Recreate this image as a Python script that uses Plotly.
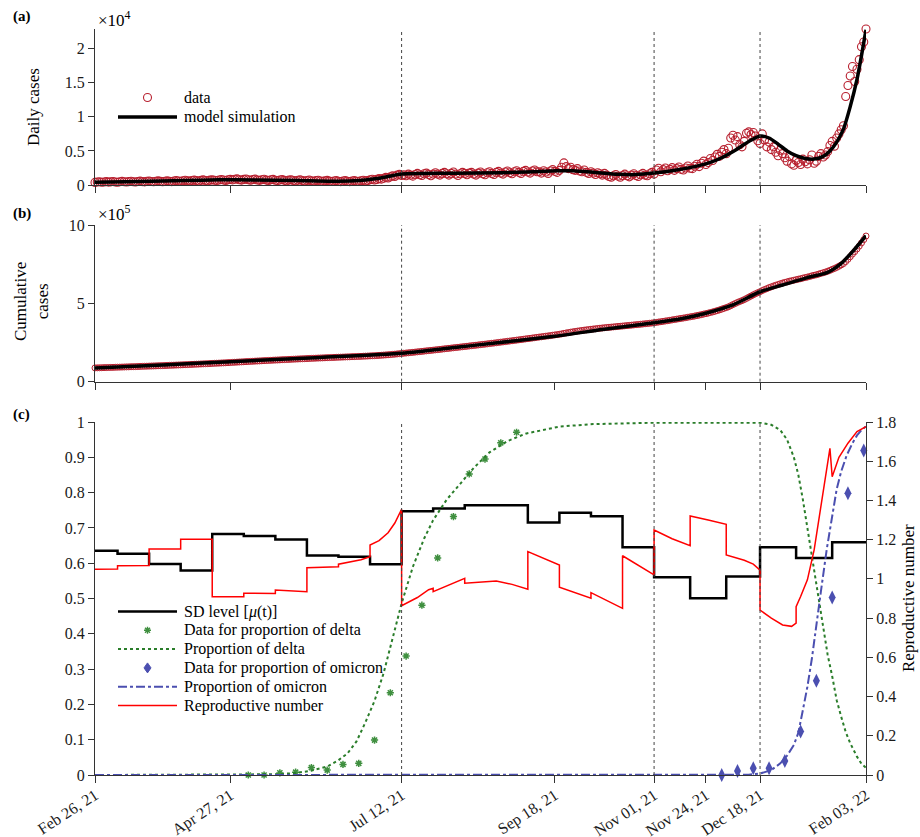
import numpy as np
import pandas as pd
import plotly.graph_objects as go

START = "2021-02-26"
END = "2022-02-03"

tick_dates = ["2021-02-26", "2021-04-27", "2021-07-12", "2021-09-18",
              "2021-11-01", "2021-11-24", "2021-12-18", "2022-02-03"]
tick_labels = ["Feb 26, 21", "Apr 27, 21", "Jul 12, 21", "Sep 18, 21",
               "Nov 01, 21", "Nov 24, 21", "Dec 18, 21", "Feb 03, 22"]
stage_dates = ["2021-07-12", "2021-11-01", "2021-12-18"]

# ---- (a) daily reported cases, one value per day from Feb 26, 2021 ----
daily_cases = (
    [380, 430, 470, 410, 450, 500, 420, 460, 520, 450, 400, 480, 530, 470, 430, 500,
     550, 480, 440, 520, 570, 500, 460, 540, 590, 510, 470, 550, 600, 530, 490]
    + [560, 620, 540, 500, 590, 650, 580, 540, 630, 690, 610, 570, 660, 720, 640, 590,
       680, 750, 670, 620, 710, 780, 700, 650, 740, 810, 730, 670, 760, 830]
    + [750, 840, 900, 780, 720, 820, 880, 760, 700, 800, 860, 740, 680, 780, 840, 720,
       660, 760, 820, 700, 640, 740, 800, 680, 620, 720, 780, 660, 600, 700]
    + [760, 640, 580, 670, 730, 610, 560, 640, 700, 590, 530, 610, 680, 570, 510, 590,
       660, 560, 500, 580, 650, 550, 500, 590, 660, 560, 540, 620, 700, 600]
    + [660, 760, 840, 730, 820, 940, 860, 990, 1120, 1040, 1190, 1340, 1260, 1450, 1560, 1400]
    + [1500, 1350, 1600, 1450, 1300, 1550, 1700, 1500, 1400, 1650, 1750, 1550, 1350, 1600,
       1800, 1600, 1450, 1700, 1850, 1650, 1450, 1700, 1900, 1600, 1400, 1650, 1850, 1700,
       1500, 1750]
    + [1850, 1600, 1450, 1750, 1900, 1650, 1500, 1800, 1950, 1700, 1550, 1850, 2000, 1750,
       1600, 1900, 2050, 1800, 1650, 1950, 2100, 1850, 1700, 2000, 2150, 1900, 1750, 2050,
       2200, 1950]
    + [1950, 1750, 2100, 1900, 1700, 2050, 2250, 2000, 1850, 2150, 2600, 3250, 2700, 2400,
       2600, 2250, 2150, 2400, 2050, 1950, 2200, 1850, 1700, 1950, 1750, 1550, 1800, 1650,
       1450, 1700]
    + [1450, 1250, 1150, 1350, 1550, 1300, 1150, 1400, 1600, 1350, 1200, 1450, 1650, 1400,
       1250, 1500, 1700, 1450, 1350, 1650, 1850, 1600]
    + [2200, 2450, 1950, 2250, 2500, 2100, 2300, 2550, 2150, 2400, 2650, 2300, 2200, 2500,
       2800, 2450, 2400, 2750, 3050, 2700, 3200, 3500, 3000]
    + [3300, 3900, 3600, 4100, 4500, 4200, 4800, 5200, 4600, 5400, 6900, 7300, 6600, 7100,
       5900, 5600, 6400, 7600, 7800, 7400, 7700, 7200, 6500, 6100]
    + [7500, 6600, 5600, 6300, 5200, 5600, 4800, 4300, 5100, 4600]
    + [4000, 3500, 4200, 3100, 2900, 3600, 3300, 3000, 3800, 3400]
    + [3100, 3700, 4400, 3200, 3500, 4200, 4600, 4100, 4400, 4900]
    + [5800, 6400, 5700, 6900, 7500, 8100, 8700, 13000]
    + [14600, 16000, 17400, 15200, 17000, 18400, 20300, 21000, 22900]
)

# model simulation of daily cases (day index, value)
model_days = [0, 20, 40, 55, 70, 90, 105, 115, 120, 125, 130, 136, 145, 160, 180, 195,
              205, 212, 222, 232, 240, 248, 258, 266, 272, 278, 284, 290, 295, 299, 303,
              307, 311, 315, 319, 323, 326, 329, 332, 335, 338, 340, 342]
model_daily = [420, 520, 650, 760, 750, 650, 560, 620, 740, 950, 1250, 1600, 1680, 1730,
               1800, 1950, 2080, 2100, 1850, 1580, 1530, 1750, 2200, 2700, 3200, 4000,
               5100, 6400, 7200, 6900, 6000, 5000, 4300, 3900, 3800, 4200, 5000, 6300,
               8200, 11500, 15500, 19000, 22800]

# ---- (b) cumulative cases ----
cum_start = 88000
cum_model_days = [0, 30, 60, 100, 136, 170, 204, 225, 248, 260, 271, 283, 295, 305, 316,
                  325, 331, 336, 342]
cum_model = [88000, 107000, 128000, 155000, 181000, 235000, 290000, 333000, 376000,
             402000, 437000, 490000, 574000, 617000, 664000, 698000, 755000, 830000, 932000]

# ---- (c) SD level, variant proportions, reproductive number ----
sd_days = [0, 10, 24, 38, 52, 66, 80, 94, 108, 122, 136, 150, 164, 192, 206, 220, 234,
           248, 264, 280, 295, 311, 327, 342]
sd_level = [0.635, 0.627, 0.598, 0.579, 0.683, 0.677, 0.667, 0.622, 0.618, 0.597, 0.747,
            0.755, 0.764, 0.715, 0.743, 0.733, 0.645, 0.560, 0.501, 0.562, 0.645, 0.615,
            0.659, 0.659]

r_days = [0, 10, 10, 24, 24, 38, 38, 52, 52, 66, 66, 80, 80, 87, 94, 94, 108, 108, 113,
          118, 122, 122, 126, 130, 133, 136, 136, 143, 148, 150, 150, 157, 164, 164, 171,
          178, 185, 192, 192, 199, 206, 206, 213, 220, 220, 227, 234, 234, 241, 248, 248,
          256, 264, 264, 272, 280, 280, 288, 292, 295, 295, 300, 305, 309, 311, 311, 313,
          316, 319, 323, 326, 327, 330, 334, 338, 342]
r_values = [1.049, 1.050, 1.067, 1.068, 1.153, 1.152, 1.202, 1.202, 0.909, 0.909, 0.927,
            0.925, 0.943, 0.940, 0.935, 1.057, 1.062, 1.075, 1.085, 1.098, 1.113, 1.173,
            1.195, 1.235, 1.285, 1.355, 0.863, 0.905, 0.945, 0.952, 0.935, 0.968, 1.003,
            0.978, 0.985, 0.989, 0.972, 0.947, 1.139, 1.105, 1.071, 0.957, 0.930, 0.901,
            0.930, 0.890, 0.850, 1.118, 1.068, 1.020, 1.249, 1.205, 1.169, 1.321, 1.300,
            1.278, 1.122, 1.095, 1.075, 1.045, 0.841, 0.800, 0.765, 0.758, 0.774, 0.858,
            0.910, 0.995, 1.148, 1.437, 1.666, 1.521, 1.620, 1.692, 1.751, 1.776]

delta_days = [0, 60, 80, 88, 95, 103, 108, 112, 116, 120, 124, 128, 132, 136, 141, 146,
              150, 156, 162, 168, 175, 183, 191, 200, 206, 221, 248, 295, 300, 304, 307,
              310, 312, 314, 316, 319, 321, 323, 325, 327, 329, 331, 333, 335, 338, 340, 342]
delta_prop = [0.0, 0.0005, 0.002, 0.005, 0.011, 0.024, 0.042, 0.061, 0.095, 0.15, 0.21,
              0.288, 0.39, 0.486, 0.59, 0.67, 0.722, 0.78, 0.825, 0.87, 0.914, 0.946,
              0.967, 0.98, 0.987, 0.994, 0.998, 0.998, 0.992, 0.977, 0.95, 0.90, 0.85,
              0.78, 0.70, 0.58, 0.50, 0.42, 0.34, 0.28, 0.212, 0.165, 0.122, 0.09, 0.052,
              0.032, 0.02]

delta_data_days = [68, 75, 82, 89, 96, 103, 110, 117, 124, 131, 138, 145, 152, 159, 166,
                   173, 180, 187]
delta_data = [0.0, 0.0, 0.006, 0.008, 0.021, 0.014, 0.030, 0.033, 0.099, 0.233, 0.337,
              0.481, 0.615, 0.732, 0.853, 0.895, 0.941, 0.971]

omicron_days = [0, 285, 290, 295, 300, 304, 307, 310, 312, 314, 316, 318, 320, 322, 324.6,
                327, 329, 331, 333.4, 336, 338, 340, 342]
omicron_prop = [0.0, 0.0, 0.001, 0.004, 0.014, 0.033, 0.055, 0.085, 0.12, 0.184, 0.25,
                0.33, 0.43, 0.52, 0.64, 0.74, 0.81, 0.86, 0.905, 0.94, 0.962, 0.977, 0.988]

omicron_data_days = [278, 285, 292, 299, 306, 313, 320, 327, 334, 341]
omicron_data = [0.0, 0.011, 0.019, 0.019, 0.040, 0.123, 0.267, 0.503, 0.798, 0.919]

legend_a_labels = ["data", "model simulation"]
legend_c_labels = ["SD level [<i>μ</i>(t)]", "Data for proportion of delta",
                   "Proportion of delta", "Data for proportion of omicron",
                   "Proportion of omicron", "Reproductive number"]

# ---------------------------------------------------------------------------
t0 = pd.Timestamp(START)


def to_dates(days):
    return [t0 + pd.Timedelta(days=float(d)) for d in days]


daily_dates = pd.date_range(START, periods=len(daily_cases), freq="D")
daily_arr = np.array(daily_cases, dtype=float)
cum_data = cum_start + np.cumsum(daily_arr) - daily_arr[0]

FONT = "Liberation Serif"
AX = "#333333"
RED_C = "#b8202f"
GREEN = "#2a7d2a"
GREEN_M = "#3f8f3f"
BLUE = "#4b4fb0"

fig = go.Figure()

# (a)
fig.add_trace(go.Scatter(x=daily_dates, y=daily_cases, mode="markers", name=legend_a_labels[0],
                         marker=dict(symbol="circle-open", size=8, color=RED_C,
                                     line=dict(width=1.1, color=RED_C)),
                         cliponaxis=False, xaxis="x", yaxis="y", showlegend=False))
fig.add_trace(go.Scatter(x=to_dates(model_days), y=model_daily, mode="lines",
                         name=legend_a_labels[1], line=dict(color="black", width=3.5,
                                                            shape="spline", smoothing=0.6),
                         xaxis="x", yaxis="y", showlegend=False))
# (b)
fig.add_trace(go.Scatter(x=daily_dates, y=cum_data, mode="markers", showlegend=False,
                         name="data",
                         marker=dict(symbol="circle-open", size=6, color=RED_C,
                                     line=dict(width=1, color=RED_C)),
                         cliponaxis=False, xaxis="x2", yaxis="y2"))
fig.add_trace(go.Scatter(x=to_dates(cum_model_days), y=cum_model, mode="lines",
                         showlegend=False, name="model simulation",
                         line=dict(color="black", width=3.5, shape="spline", smoothing=0.6),
                         xaxis="x2", yaxis="y2"))
# (c)
fig.add_trace(go.Scatter(x=to_dates(sd_days), y=sd_level, mode="lines",
                         name=legend_c_labels[0],
                         line=dict(color="black", width=2.5, shape="hv"),
                         xaxis="x3", yaxis="y3", showlegend=False))
fig.add_trace(go.Scatter(x=to_dates(delta_data_days), y=delta_data, mode="markers",
                         name=legend_c_labels[1],
                         marker=dict(symbol="asterisk", size=6, color=GREEN_M,
                                     line=dict(width=1.5, color=GREEN_M)),
                         cliponaxis=False, xaxis="x3", yaxis="y3", showlegend=False))
fig.add_trace(go.Scatter(x=to_dates(delta_days), y=delta_prop, mode="lines",
                         name=legend_c_labels[2],
                         line=dict(color=GREEN, width=2, dash="dot"),
                         xaxis="x3", yaxis="y3", showlegend=False))
fig.add_trace(go.Scatter(x=to_dates(omicron_data_days), y=omicron_data, mode="markers",
                         name=legend_c_labels[3],
                         marker=dict(symbol="diamond-tall", size=10, color=BLUE),
                         cliponaxis=False, xaxis="x3", yaxis="y3", showlegend=False))
fig.add_trace(go.Scatter(x=to_dates(omicron_days), y=omicron_prop, mode="lines",
                         name=legend_c_labels[4],
                         line=dict(color=BLUE, width=2, dash="dashdot"),
                         xaxis="x3", yaxis="y3", showlegend=False))
fig.add_trace(go.Scatter(x=to_dates(r_days), y=r_values, mode="lines",
                         name=legend_c_labels[5],
                         line=dict(color="red", width=1.5),
                         xaxis="x3", yaxis="y4", showlegend=False))

# ---------------------------------------------------------------------------
# the page body margin is removed in post_script, so the figure fills the window
W, H = 920, 837
PL, PR, PT, PB = 95, 866, 29, 775          # plot area in page pixels
L, T, R, B = PL, PT, W - PR, H - PB


def py(px):  # page pixel row -> paper y
    return (PB - px) / (PB - PT)


def pxx(px):  # page pixel column -> paper x
    return (px - PL) / (PR - PL)


tickfont = dict(family=FONT, size=16, color="#1a1a1a")


def xaxis_cfg(anchor, labels):
    cfg = dict(anchor=anchor, domain=[0, 1], type="date", range=[START, END],
               tickvals=tick_dates, showticklabels=labels,
               ticks="outside", ticklen=7, tickcolor=AX, showline=True, linecolor=AX,
               linewidth=1, showgrid=False, zeroline=False, tickfont=tickfont,
               automargin=False)
    if labels:
        cfg.update(ticktext=tick_labels, tickangle=-33, ticklabelstandoff=-3)
    return cfg


def yaxis_cfg(anchor, domain, rng, tickvals, ticktext):
    return dict(anchor=anchor, domain=domain, range=rng, tickvals=tickvals,
                ticktext=ticktext, ticks="outside", ticklen=6, tickcolor=AX,
                showline=True, linecolor=AX, linewidth=1, showgrid=False,
                zeroline=False, tickfont=tickfont, automargin=False)


fig.update_layout(
    width=W, height=H, margin=dict(l=L, r=R, t=T, b=B, pad=0),
    paper_bgcolor="white", plot_bgcolor="white",
    font=dict(family=FONT, size=16, color="black"),
    showlegend=False,
    xaxis=xaxis_cfg("y", False),
    xaxis2=xaxis_cfg("y2", False),
    xaxis3=xaxis_cfg("y3", True),
    yaxis=yaxis_cfg("x", [py(185), 1.0], [0, 22900], [0, 5000, 10000, 15000, 20000],
                    ["0", "0.5", "1", "1.5", "2"]),
    yaxis2=yaxis_cfg("x2", [py(381.7), py(225)], [0, 1000000], [0, 500000, 1000000],
                     ["0", "5", "10"]),
    yaxis3=yaxis_cfg("x3", [0, py(422)], [0, 1],
                     [i / 10 for i in range(11)],
                     ["0"] + [f"{i/10:g}" for i in range(1, 10)] + ["1"]),
    yaxis4=dict(overlaying="y3", side="right", anchor="x3", range=[0, 1.8],
                tickvals=[i * 0.2 for i in range(10)],
                ticktext=[f"{i*0.2:g}" for i in range(10)],
                ticks="outside", ticklen=6, tickcolor=AX, showline=True, linecolor=AX,
                linewidth=1, showgrid=False, zeroline=False, tickfont=tickfont,
                automargin=False),
)

# dotted vertical stage lines in each panel
for xa, ya in [("x", "y"), ("x2", "y2"), ("x3", "y3")]:
    for d in stage_dates:
        fig.add_shape(type="line", xref=xa, yref=f"{ya} domain", x0=d, x1=d, y0=0, y1=1,
                      line=dict(color="#444444", width=1, dash="dot"), layer="above")

# ---- hand-built legends (tight MATLAB-like row spacing) ----
LX0, LX1, LMX, LTX = 118, 177, 147.5, 182


def leg_line(row, color, width, dash="solid"):
    fig.add_shape(type="line", xref="paper", yref="paper", x0=pxx(LX0), x1=pxx(LX1),
                  y0=py(row), y1=py(row), line=dict(color=color, width=width, dash=dash))


def leg_glyph(row, path, color, fill=None, width=1.2):
    fig.add_shape(type="path", xref="paper", yref="paper", xsizemode="pixel",
                  ysizemode="pixel", xanchor=pxx(LMX), yanchor=py(row), path=path,
                  line=dict(color=color, width=width),
                  fillcolor=fill if fill else "rgba(0,0,0,0)")


def leg_circle(row, color, r=4, width=1.1):
    fig.add_shape(type="circle", xref="paper", yref="paper", xsizemode="pixel",
                  ysizemode="pixel", xanchor=pxx(LMX), yanchor=py(row),
                  x0=-r, x1=r, y0=-r, y1=r, line=dict(color=color, width=width),
                  fillcolor="rgba(0,0,0,0)")


ASTER = "M-3.5,0 L3.5,0 M0,-3.5 L0,3.5 M-2.5,-2.5 L2.5,2.5 M-2.5,2.5 L2.5,-2.5"
DIAMOND = "M0,5 L3.5,0 L0,-5 L-3.5,0 Z"

rows_a = [97.5, 117]
leg_circle(rows_a[0], RED_C)
leg_line(rows_a[1], "black", 3.5)

rows_c = [611.5, 630.3, 649.1, 667.9, 686.7, 705.5]
leg_line(rows_c[0], "black", 2.5)
leg_glyph(rows_c[1], ASTER, GREEN_M, width=1.4)
leg_line(rows_c[2], GREEN, 2, "dot")
leg_glyph(rows_c[3], DIAMOND, BLUE, fill=BLUE, width=1)
leg_line(rows_c[4], BLUE, 2, "dashdot")
leg_line(rows_c[5], "red", 1.5)

leg_font = dict(family=FONT, size=16, color="black")
annotations = []
for row, lab in list(zip(rows_a, legend_a_labels)) + list(zip(rows_c, legend_c_labels)):
    annotations.append(dict(text=lab, x=pxx(LTX), y=py(row), xref="paper", yref="paper",
                            xanchor="left", yanchor="middle", showarrow=False,
                            font=leg_font))

ann_font = dict(family=FONT, size=17, color="black")
for lab, row in [("<b>(a)</b>", 17), ("<b>(b)</b>", 213), ("<b>(c)</b>", 414)]:
    annotations.append(dict(text=lab, x=pxx(11), y=py(row), xref="paper", yref="paper",
                            xanchor="left", yanchor="middle", showarrow=False,
                            font=dict(family=FONT, size=15, color="black")))
annotations += [
    dict(text="×10<sup>4</sup>", x=pxx(96), y=py(19), xref="paper", yref="paper",
         xanchor="left", yanchor="middle", showarrow=False, font=ann_font),
    dict(text="×10<sup>5</sup>", x=pxx(96), y=py(213), xref="paper", yref="paper",
         xanchor="left", yanchor="middle", showarrow=False, font=ann_font),
    dict(text="Daily cases", x=pxx(34), y=py(107), xref="paper", yref="paper",
         xanchor="center", yanchor="middle", textangle=-90, showarrow=False, font=ann_font),
    dict(text="Cumulative<br>cases", x=pxx(31), y=py(302), xref="paper", yref="paper",
         xanchor="center", yanchor="middle", textangle=-90, showarrow=False, font=ann_font),
    dict(text="Reproductive number", x=pxx(908), y=py(598), xref="paper", yref="paper",
         xanchor="center", yanchor="middle", textangle=-90, showarrow=False, font=ann_font),
]
fig.update_layout(annotations=annotations)

fig.write_html(
    "out.html",
    config={"displayModeBar": False},
    post_script="document.documentElement.style.overflow='hidden';"
                "document.body.style.margin='0';"
                "document.body.style.overflow='hidden';",
)
